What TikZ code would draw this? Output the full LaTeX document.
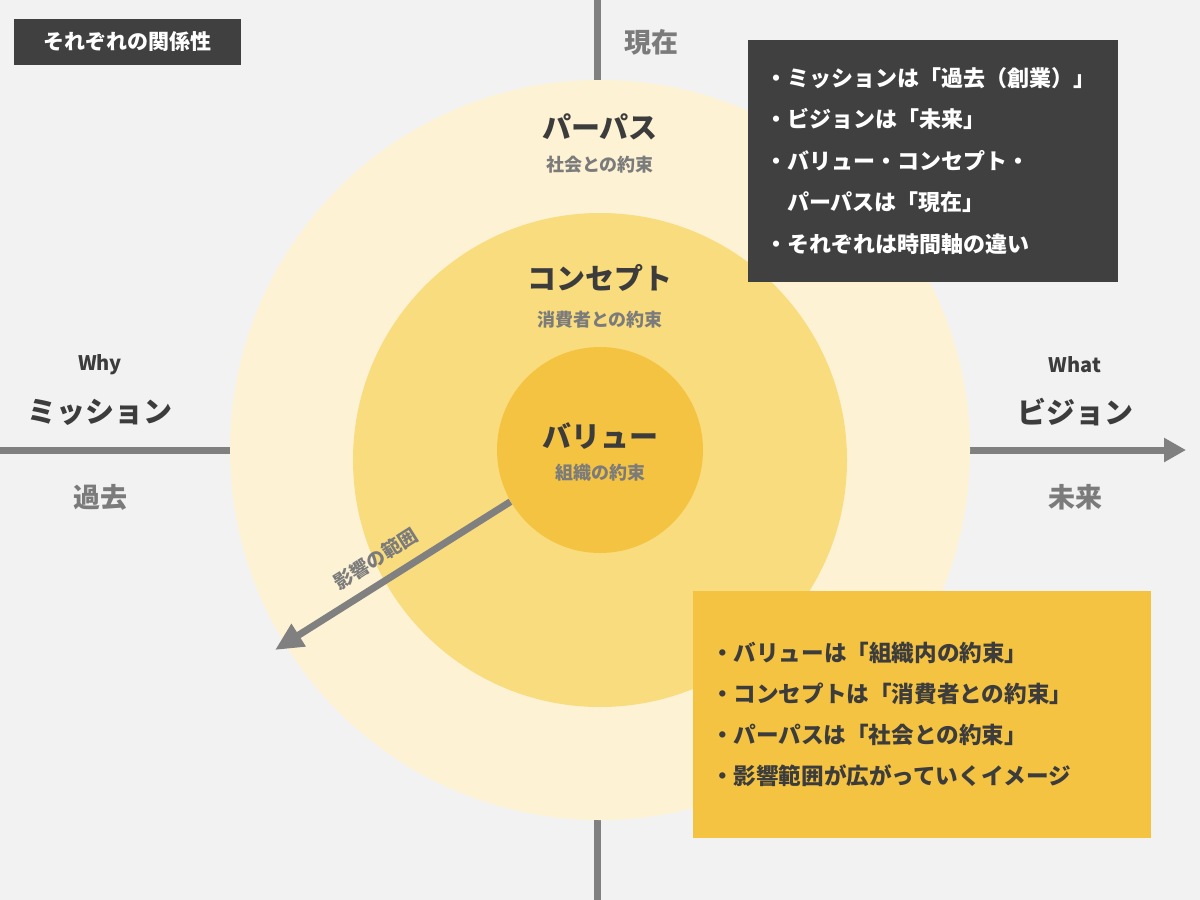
\documentclass[tikz,border=0pt]{standalone}
\usepackage{fontspec}
\setmainfont{Noto Sans CJK JP}
\usetikzlibrary{arrows.meta}
\definecolor{paper}{HTML}{F2F2F2}
\definecolor{ring1}{HTML}{FDF2D4}
\definecolor{ring2}{HTML}{F9DC7D}
\definecolor{ring3}{HTML}{F5C342}
\definecolor{axisgray}{HTML}{808080}
\definecolor{panel}{HTML}{404040}
\definecolor{ink}{HTML}{3C3C3C}
\definecolor{mute}{HTML}{7B7B7B}
\begin{document}
\begin{tikzpicture}[x=0.5pt, y=-0.5pt,
    ring/.style={circle, inner sep=0pt},
    title/.style={inner sep=0pt, text=ink, font=\fontsize{14.5}{17}\selectfont\bfseries},
    promise/.style={inner sep=0pt, text=mute, font=\fontsize{9}{11}\selectfont\bfseries},
    timelabel/.style={inner sep=0pt, text=mute, font=\fontsize{13.5}{16}\selectfont\bfseries},
    whylabel/.style={inner sep=0pt, text=ink, font=\fontsize{10}{12}\selectfont\bfseries},
    axisline/.style={draw=axisgray, line width=3.5pt}]
            % Background
            \fill[paper] (0,0) rectangle (1200,900);
            \useasboundingbox (0,0) rectangle (1200,900);

            % Time axes
            \coordinate (top) at (597,0);
            \coordinate (bottom) at (597,900);
            \coordinate (past) at (0,450);
            \coordinate (future) at (1186,450);
            \draw[axisline] (top) -- (bottom);
            \draw[axisline, -{Triangle[length=11pt, width=11.5pt]}] (past) -- (future);

            % Circles of promise
            \node[ring, fill=ring1, minimum size=370pt] (purpose) at (600,450) {};
            \node[ring, fill=ring2, minimum size=247pt] (concept) at (600,460) {};
            \node[ring, fill=ring3, minimum size=103pt] (value) at (600,450) {};

            \node[title] (purposetxt) at (600,127) {パーパス};
            \node[promise] (purposesub) at (600,165) {社会との約束};
            \node[title] (concepttxt) at (600,278) {コンセプト};
            \node[promise] (conceptsub) at (600,320) {消費者との約束};
            \node[title] (valuetxt) at (600,436) {バリュー};
            \node[promise] (valuesub) at (600,473) {組織の約束};

            % Range of influence
            \coordinate (reach) at (275,650);
            \draw[axisline, -{Triangle[length=14pt, width=12.5pt]}] (value.210) -- (reach)
                node[pos=0.52, sloped, above=5.5pt, inner sep=0pt, text=mute,
                     font=\fontsize{9.5}{11}\selectfont\bfseries] (reachtxt) {影響の範囲};

            % Axis labels
            \node[timelabel] (now) at (651,42) {現在};
            \node[whylabel] (why) at (100,365) {Why};
            \node[title] (mission) at (100,412) {ミッション};
            \node[timelabel] (pasttxt) at (100,497) {過去};
            \node[whylabel] (what) at (1075,365) {What};
            \node[title] (vision) at (1075,412) {ビジョン};
            \node[timelabel] (futuretxt) at (1075,497) {未来};

            % Heading
            \node[fill=panel, text=white, minimum width=113.5pt, minimum height=23pt,
                  inner sep=0pt, font=\fontsize{10.5}{12}\selectfont\bfseries]
                (heading) at (127.5,42) {それぞれの関係性};

            % Time note
            \node[fill=panel, text=white, minimum width=185pt, minimum height=121pt,
                  inner xsep=8.5pt, inner ysep=0pt, text width=168pt, align=left,
                  font=\fontsize{11}{20.75}\selectfont\bfseries]
                (timenote) at (933,161) {・ミッションは「過去（創業）」\\
                ・ビジョンは「未来」\\
                ・バリュー・コンセプト・\\
                \phantom{・}パーパスは「現在」\\
                ・それぞれは時間軸の違い};

            % Range note
            \node[fill=ring3, text=ink, minimum width=229pt, minimum height=123.5pt,
                  inner xsep=9pt, inner ysep=0pt, text width=211pt, align=left,
                  font=\fontsize{11.3}{20.5}\selectfont\bfseries]
                (rangenote) at (922,714.5) {・バリューは「組織内の約束」\\
                ・コンセプトは「消費者との約束」\\
                ・パーパスは「社会との約束」\\
                ・影響範囲が広がっていくイメージ};
\end{tikzpicture}
\end{document}
